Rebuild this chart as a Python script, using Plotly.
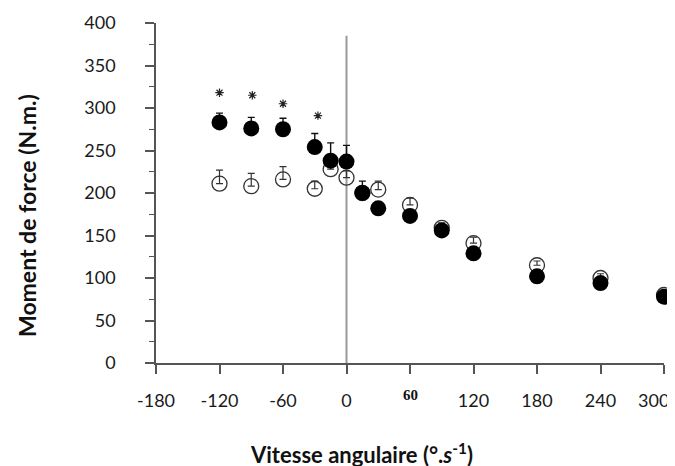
import plotly.graph_objects as go

# ---- data ----
velocity = [-120, -90, -60, -30, -15, 0, 15, 30, 60, 90, 120, 180, 240, 300]
filled_torque = [283, 276, 275, 254, 238, 237, 200, 182, 173, 156, 129, 102, 94, 78]
filled_err = [11, 13, 13, 16, 21, 19, 14, 5, 5, 5, 5, 5, 5, 5]
open_torque = [211, 208, 216, 205, 228, 218, 200, 204, 186, 159, 141, 115, 100, 80]
open_err = [16, 15, 15, 9, 8, 8, 6, 10, 8, 6, 7, 5, 5, 4]
star_x = [-120, -89, -60, -27]
star_y = [318, 315, 305, 291]
x_tick_vals = [-180, -120, -60, 0, 60, 120, 180, 240, 300]
x_tick_text = ["-180", "-120", "-60", "0", "", "120", "180", "240", ""]
y_tick_vals = [0, 50, 100, 150, 200, 250, 300, 350, 400]

AX = "#555555"
FONT = "Lato"

# page has an 8px body margin, so the figure is made 8px smaller
OFF = 8
W, H = 675 - OFF, 466 - OFF
L, R, T, B = 156 - OFF, 11, 23 - OFF, 103

fig = go.Figure()

fig.add_trace(go.Scatter(
    x=velocity, y=open_torque, mode="markers",
    marker=dict(symbol="circle-open", size=15, color="#333333",
                line=dict(width=1.3, color="#333333")),
    error_y=dict(type="data", symmetric=False, array=open_err,
                 arrayminus=[0] * len(open_err), color="#333333",
                 thickness=1.2, width=3.5),
    showlegend=False, cliponaxis=False))

fig.add_trace(go.Scatter(
    x=velocity, y=filled_torque, mode="markers",
    marker=dict(symbol="circle", size=16, color="#000000",
                line=dict(width=0)),
    error_y=dict(type="data", symmetric=False, array=filled_err,
                 arrayminus=[0] * len(filled_err), color="#111111",
                 thickness=1.4, width=3.5),
    showlegend=False, cliponaxis=False))

fig.add_trace(go.Scatter(
    x=star_x, y=star_y, mode="markers",
    marker=dict(symbol="asterisk-open", size=7, color="#222222",
                line=dict(width=1.2, color="#222222")),
    showlegend=False, cliponaxis=False))

fig.add_shape(type="line", x0=0, x1=0, y0=0, y1=385, xref="x", yref="y",
              line=dict(color="#9a9a9a", width=2), layer="below")

fig.update_xaxes(
    range=[-180, 300], showline=True, linecolor=AX, linewidth=1.5,
    ticks="outside", ticklen=9, tickcolor=AX, tickwidth=1.5,
    tickvals=x_tick_vals, ticktext=x_tick_text,
    tickfont=dict(family=FONT, size=18, color="#1a1a1a"),
    ticklabelstandoff=12, ticklabeloverflow="allow",
    showgrid=False, zeroline=False)

fig.update_yaxes(
    range=[0, 400], showline=True, linecolor=AX, linewidth=1.5,
    ticks="outside", ticklen=9, tickcolor=AX, tickwidth=1.5,
    tickvals=y_tick_vals,
    minor=dict(dtick=25, tick0=0, ticks="outside", ticklen=5, tickcolor=AX, tickwidth=1),
    tickfont=dict(family=FONT, size=18, color="#1a1a1a"),
    ticklabelstandoff=26, ticklabeloverflow="allow",
    showgrid=False, zeroline=False)

fig.update_layout(
    width=W, height=H,
    margin=dict(l=L, r=R, t=T, b=B, autoexpand=False),
    paper_bgcolor="white", plot_bgcolor="white",
    font=dict(family=FONT, color="#1a1a1a"),
)

# text placed by target page pixel positions
pw, ph = W - L - R, H - T - B
def px_to_paper(px, py):
    return (px - OFF - L) / pw, (H - B - (py - OFF)) / ph

sx, sy = px_to_paper(410, 395)
fig.add_annotation(x=sx, y=sy, xref="paper", yref="paper", text="<b>60</b>",
                   showarrow=False, xanchor="center", yanchor="middle",
                   font=dict(family="Liberation Serif", size=15, color="#111111"))

tx, ty = px_to_paper(653, 400)
fig.add_annotation(x=tx, y=ty, xref="paper", yref="paper", text="300",
                   showarrow=False, xanchor="center", yanchor="middle",
                   font=dict(family=FONT, size=18, color="#1a1a1a"))

yx, yy = px_to_paper(27, 216)
xx, xy = px_to_paper(361, 453)
fig.add_annotation(x=yx, y=yy, xref="paper", yref="paper",
                   text="<b>Moment de force (N.m.)</b>", textangle=-90,
                   showarrow=False, xanchor="center", yanchor="middle",
                   font=dict(family=FONT, size=23, color="#111111"))
fig.add_annotation(x=xx, y=xy, xref="paper", yref="paper",
                   text="<b>Vitesse angulaire (°.<i>s</i><sup>-1</sup>)</b>",
                   showarrow=False, xanchor="center", yanchor="middle",
                   font=dict(family=FONT, size=22, color="#111111"))

fig.write_html("out.html")
